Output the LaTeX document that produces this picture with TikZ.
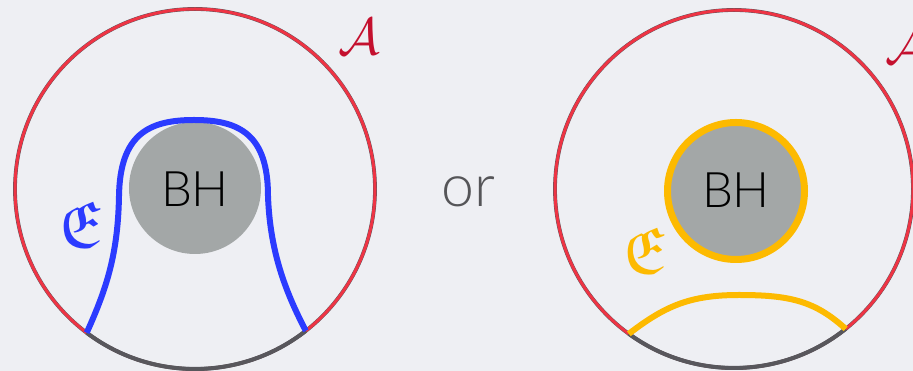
\documentclass[tikz,border=0pt]{standalone}
\usepackage{amssymb}
\usepackage{fontspec}
\setsansfont{Lato}[UprightFont={* Light}]
\usetikzlibrary{calc}
\definecolor{bg}{RGB}{238,239,243}
\definecolor{ringred}{RGB}{238,52,68}
\definecolor{ringdark}{RGB}{88,87,92}
\definecolor{bhgray}{RGB}{163,167,167}
\definecolor{surfblue}{RGB}{43,59,255}
\definecolor{surforange}{RGB}{253,186,0}
\definecolor{labred}{RGB}{196,16,46}
\definecolor{ortext}{RGB}{85,85,88}
\tikzset{
  outer/.style={draw=ringdark, line width=3.8pt},
  outerred/.style={draw=ringred, line width=3pt},
  bottomarc/.style={draw=ringdark, line width=4pt},
  bh/.style={circle, fill=bhgray, inner sep=0pt},
  bhtext/.style={inner sep=0pt, font=\sffamily\fontsize{49}{49}\selectfont, text=black},
  lab/.style={inner sep=0pt, font=\fontsize{10}{10}\selectfont},
}
\begin{document}
\begin{tikzpicture}[x=1pt,y=1pt]
\useasboundingbox (0,0) rectangle (913,371);
\fill[bg] (0,0) rectangle (913,371);

% ---------- left panel ----------
\coordinate (LC) at (195,182);
\draw[outer] (LC) circle (180);
\draw[outerred] (LC) circle (180);
\draw[bottomarc] ($(LC)+(233:180)$) arc (233:308:180);
\node[bh, minimum size=132pt] (BHL) at (195,183) {};
\node[bhtext] (BHLt) at (195,181.5) {BH};
\coordinate (EL1) at ($(LC)+(233:180)$);
\coordinate (EL2) at ($(LC)+(308:180)$);
\draw[surfblue, line width=6pt] (EL1) .. controls (108,85) and (118,120) .. (119,175)
  .. controls (120,236) and (148,251) .. (194,251)
  .. controls (240,251) and (268,236) .. (268,175)
  .. controls (270,120) and (285,80) .. (EL2);
\node[lab, text=labred, scale=5.2] (AL) at (359,334) {$\mathcal{A}$};
\node[lab, text=surfblue, scale=6.6] (EL) at (80,146) {$\mathfrak{E}$};

% ---------- or ----------
\node[inner sep=0pt, text=ortext, font=\sffamily\fontsize{59}{59}\selectfont] (or) at (468,179) {or};

% ---------- right panel ----------
\coordinate (RC) at (734,182);
\draw[outer] (RC) circle (179);
\draw[outerred] (RC) circle (179);
\draw[bottomarc] ($(RC)+(234:179)$) arc (234:308.6:179);
\node[bh, minimum size=136pt] (BHR) at (736,180) {};
\draw[surforange, line width=7pt] (BHR.center) circle (68.5);
\node[bhtext] (BHRt) at (736,180.5) {BH};
\coordinate (ER1) at ($(RC)+(234:179)$);
\coordinate (ER2) at ($(RC)+(308.6:179)$);
\draw[surforange, line width=6pt] (ER1) .. controls (665,65) and (690,76) .. (739,76)
  .. controls (790,76) and (815,70) .. (ER2);
\node[lab, text=labred, scale=5.2] (AR) at (906,325) {$\mathcal{A}$};
\node[lab, text=surforange, scale=6.6] (ER) at (644,120) {$\mathfrak{E}$};
\end{tikzpicture}
\end{document}
